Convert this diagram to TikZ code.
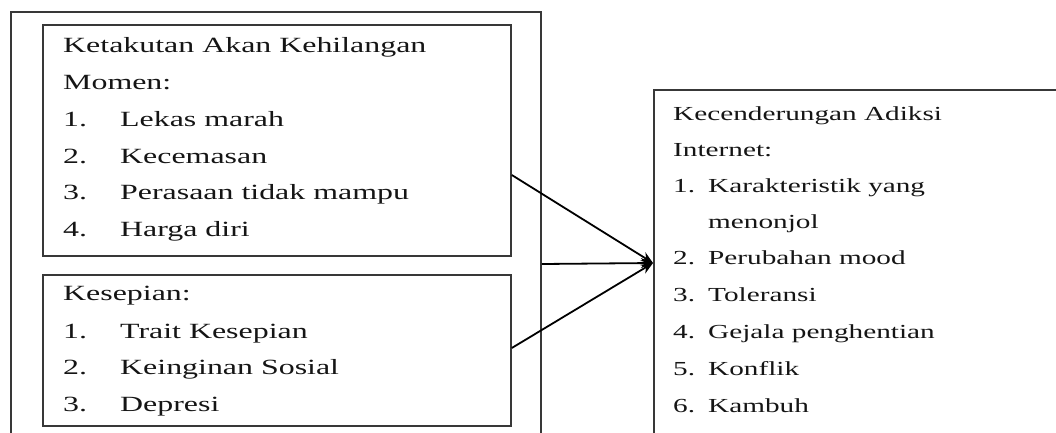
\documentclass[tikz,border=0pt]{standalone}
\usepackage{fontspec}
\usepackage{graphicx}
\setmainfont{Liberation Serif}
\usetikzlibrary{arrows.meta,calc}
\definecolor{lineg}{HTML}{383838}
\definecolor{ink}{HTML}{151515}
\newcommand{\sx}[1]{\scalebox{1.47}[1]{#1}}
\begin{document}
\begin{tikzpicture}[x=1pt,y=-1pt,
  box/.style={draw=lineg, line width=1.8pt, anchor=north west, inner sep=0pt},
  txt/.style={anchor=base west, inner sep=0pt, text=ink, font=\fontsize{21.7}{26}\selectfont},
  txtr/.style={txt, font=\fontsize{19.9}{24}\selectfont},
  arr/.style={draw=black, line width=1.8pt, -{Stealth[length=12pt,width=10pt]}}]
\useasboundingbox (0,0) rectangle (1056,432);
\clip (0,0) rectangle (1056,432);
\fill[white] (0,0) rectangle (1056,432);
% boxes
\node[box, minimum width=530pt, minimum height=440pt] (outer) at (10,11) {};
\node[box, minimum width=468pt, minimum height=231pt] (fomo) at (42,24) {};
\node[box, minimum width=468pt, minimum height=151pt] (sepi) at (42,274) {};
\node[box, minimum width=420pt, minimum height=360pt] (adiksi) at (653,89) {};
% text box 1
\node[txt] (f0) at (63,52) {\sx{Ketakutan Akan Kehilangan}};
\node[txt] (f1) at (63,89) {\sx{Momen:}};
\node[txt] (f2n) at (63,126) {\sx{1.}}; \node[txt] (f2) at (120,126) {\sx{Lekas marah}};
\node[txt] (f3n) at (63,163) {\sx{2.}}; \node[txt] (f3) at (120,163) {\sx{Kecemasan}};
\node[txt] (f4n) at (63,199) {\sx{3.}}; \node[txt] (f4) at (120,199) {\sx{Perasaan tidak mampu}};
\node[txt] (f5n) at (63,236) {\sx{4.}}; \node[txt] (f5) at (120,236) {\sx{Harga diri}};
% text box 2
\node[txt] (s0) at (63,300) {\sx{Kesepian:}};
\node[txt] (s1n) at (63,338) {\sx{1.}}; \node[txt] (s1) at (120,338) {\sx{Trait Kesepian}};
\node[txt] (s2n) at (63,374) {\sx{2.}}; \node[txt] (s2) at (120,374) {\sx{Keinginan Sosial}};
\node[txt] (s3n) at (63,411) {\sx{3.}}; \node[txt] (s3) at (120,411) {\sx{Depresi}};
% text right box
\node[txtr] (a0) at (673,120) {\sx{Kecenderungan Adiksi}};
\node[txtr] (a1) at (673,156) {\sx{Internet:}};
\node[txtr] (a2n) at (673,192) {\sx{1.}}; \node[txtr] (a2) at (708,192) {\sx{Karakteristik yang}};
\node[txtr] (a3) at (708,228) {\sx{menonjol}};
\node[txtr] (a4n) at (673,264) {\sx{2.}}; \node[txtr] (a4) at (708,264) {\sx{Perubahan mood}};
\node[txtr] (a5n) at (673,301) {\sx{3.}}; \node[txtr] (a5) at (708,301) {\sx{Toleransi}};
\node[txtr] (a6n) at (673,338) {\sx{4.}}; \node[txtr] (a6) at (708,338) {\sx{Gejala penghentian}};
\node[txtr] (a7n) at (673,375) {\sx{5.}}; \node[txtr] (a7) at (708,375) {\sx{Konflik}};
\node[txtr] (a8n) at (673,412) {\sx{6.}}; \node[txtr] (a8) at (708,412) {\sx{Kambuh}};
% connectors
\coordinate (p1) at ($(fomo.north east)+(0,151)$);
\coordinate (p2) at ($(outer.north east)+(0,253)$);
\coordinate (p3) at ($(sepi.north east)+(0,74)$);
\coordinate (tgt) at ($(adiksi.north west)+(0,174)$);
\draw[arr] (p1) -- (tgt);
\draw[arr] (p2) -- (tgt);
\draw[arr] (p3) -- (tgt);
\end{tikzpicture}
\end{document}
